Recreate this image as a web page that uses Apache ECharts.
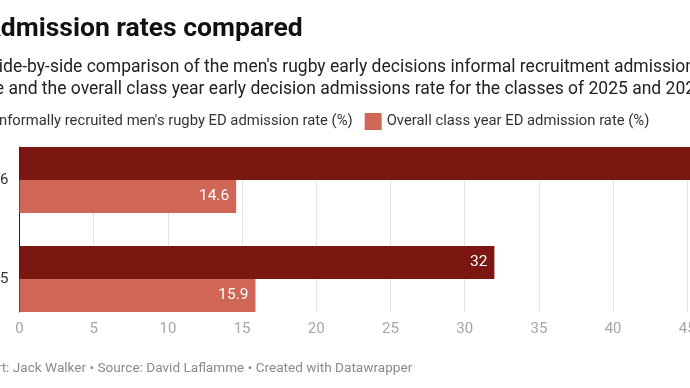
<!DOCTYPE html>
<html>
<head>
<meta charset="utf-8">
<script src="https://cdn.jsdelivr.net/npm/echarts@6/dist/echarts.min.js"></script>
<style>
html,body{margin:0;padding:0;background:#fff;overflow:hidden;}
#chart{width:690px;height:388px;}
</style>
</head>
<body>
<div id="chart"></div>
<script>
const categories = ['2026', '2025'];
const rugbyRate = [47, 32];
const overallRate = [14.6, 15.9];
const seriesNames = [
  "Informally recruited men's rugby ED admission rate (%)",
  'Overall class year ED admission rate (%)'
];
const titleText = 'Admission rates compared';
const subtitleLines = [
  "A side-by-side comparison of the men's rugby early decisions informal recruitment admissions",
  'rate and the overall class year early decision admissions rate for the classes of 2025 and 2026.'
];
const footerText = 'Chart: Jack Walker \u2022 Source: David Laflamme \u2022 Created with Datawrapper';

const FONT = 'Roboto';
const chart = echarts.init(document.getElementById('chart'), null, {renderer: 'canvas'});
const xCommon = {type: 'value', min: 0, max: 50, interval: 5};
chart.setOption({
  animation: false,
  textStyle: {fontFamily: FONT},
  grid: [
    {left: 19.5, right: -71.5, top: 130.5, bottom: 59.5, containLabel: false, outerBoundsMode: 'none'},
    {left: 19.5, right: -71.5, top: 147, bottom: 76, containLabel: false, outerBoundsMode: 'none'}
  ],
  xAxis: [
    Object.assign({gridIndex: 0, show: false}, xCommon),
    Object.assign({gridIndex: 1,
      axisLine: {show: false}, axisTick: {show: false},
      splitLine: {show: true, lineStyle: {color: '#e3e3e3', width: 1}},
      axisLabel: {color: '#a6a6a6', fontSize: 15, margin: 10, fontFamily: FONT}
    }, xCommon)
  ],
  yAxis: [
    {type: 'category', gridIndex: 0, data: categories, inverse: true,
      axisLine: {show: false}, axisTick: {show: false},
      axisLabel: {color: '#333', fontSize: 15, margin: 11, fontFamily: FONT}},
    {type: 'value', gridIndex: 1, min: 0, max: 1,
      axisLine: {show: true, lineStyle: {color: '#222', width: 1}},
      axisTick: {show: false}, axisLabel: {show: false}, splitLine: {show: false}}
  ],
  legend: {
    left: -32, top: 108, itemWidth: 17, itemHeight: 17, itemGap: 12,
    icon: 'rect',
    textStyle: {color: '#333', fontSize: 14.8, fontFamily: FONT},
    data: seriesNames
  },
  graphic: [
    {type: 'text', left: -17, top: 16, style: {text: titleText, fill: '#111', font: 'bold 26.5px Roboto'}},
    {type: 'text', left: -26, top: 57, style: {text: subtitleLines.join('\n'), fill: '#222', font: '17.5px Roboto', lineHeight: 22}},
    {type: 'text', left: -27, top: 362, style: {text: footerText, fill: '#8a8a8a', font: '13.6px Roboto'}}
  ],
  series: [
    {name: seriesNames[0], type: 'bar', xAxisIndex: 0, yAxisIndex: 0, data: rugbyRate,
      barWidth: 33, barGap: '0%', z: 3,
      itemStyle: {color: '#7b1711'},
      label: {show: true, position: 'insideRight', color: '#fff', fontSize: 15.5, distance: 7, fontFamily: FONT}},
    {name: seriesNames[1], type: 'bar', xAxisIndex: 0, yAxisIndex: 0, data: overallRate,
      barWidth: 33, barGap: '0%', z: 3,
      itemStyle: {color: '#cf6656'},
      label: {show: true, position: 'insideRight', color: '#fff', fontSize: 15.5, distance: 7, fontFamily: FONT}}
  ]
});
</script>
</body>
</html>
